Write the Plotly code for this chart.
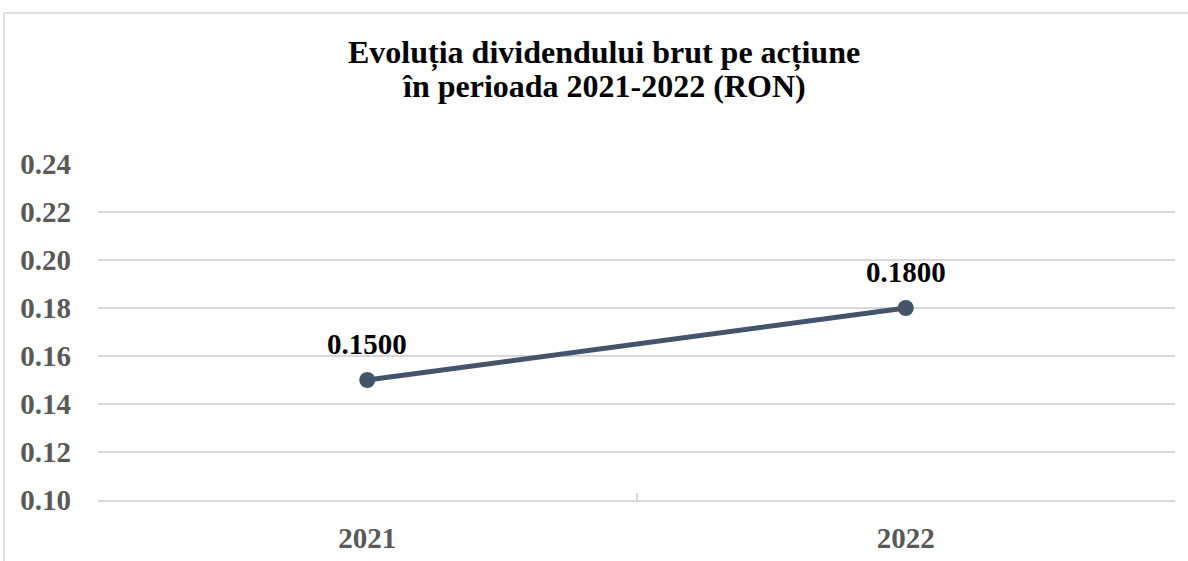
import plotly.graph_objects as go

years = ["2021", "2022"]
dividend = [0.15, 0.18]
labels = ["0.1500", "0.1800"]
y_ticks = [0.10, 0.12, 0.14, 0.16, 0.18, 0.20, 0.22, 0.24]
y_ticktext = ["0.10", "0.12", "0.14", "0.16", "0.18", "0.20", "0.22", "0.24"]
title_lines = ["Evoluția dividendului brut pe acțiune", "în perioada 2021-2022 (RON)"]

W, H = 1188, 561
L, R, T, B = 98, 13, 164, 61
pw = W - L - R
ph = H - T - B
SERIF = "Liberation Serif"
LINE_COLOR = "#44546A"

fig = go.Figure()
fig.add_trace(go.Scatter(
    x=years, y=dividend, mode="lines+markers",
    line=dict(color=LINE_COLOR, width=5),
    marker=dict(color=LINE_COLOR, size=16),
    cliponaxis=False,
    showlegend=False,
))

annotations = []
for i, (yv, lab) in enumerate(zip(dividend, labels)):
    annotations.append(dict(
        x=i, y=yv, xref="x", yref="y", text=lab, showarrow=False,
        xanchor="center", yanchor="bottom", yshift=18,
        font=dict(family=SERIF, size=29, color="#000000", weight="bold"),
    ))

title_centers = [52, 86]
for line, yc in zip(title_lines, title_centers):
    annotations.append(dict(
        x=(604 - L) / pw, y=(H - B - yc) / ph, xref="paper", yref="paper",
        text=line, showarrow=False, xanchor="center", yanchor="middle",
        font=dict(family=SERIF, size=32, color="#000000", weight="bold"),
    ))

fig.update_layout(
    width=W, height=H,
    margin=dict(l=L, r=R, t=T, b=B, autoexpand=False),
    paper_bgcolor="white", plot_bgcolor="white",
    font=dict(family=SERIF),
    xaxis=dict(
        type="category", range=[-0.5, 1.5], tickson="boundaries",
        ticks="inside", ticklen=7, tickcolor="#D9D9D9", tickwidth=1.5,
        showline=True, linecolor="#D9D9D9", linewidth=1.5,
        showgrid=False, automargin=False,
        tickfont=dict(family=SERIF, size=29, color="#595959", weight="bold"),
        ticklabelstandoff=11,
    ),
    yaxis=dict(
        range=[0.10, 0.24], tickvals=y_ticks, ticktext=y_ticktext,
        showgrid=True, gridcolor="#D9D9D9", gridwidth=1.5,
        showline=False, zeroline=False, ticks="", automargin=False,
        tickfont=dict(family=SERIF, size=29, color="#595959", weight="bold"),
        ticklabelstandoff=26,
    ),
    annotations=annotations,
    shapes=[dict(
        type="rect", xref="paper", yref="paper",
        x0=(4 - L) / pw, x1=(W + 30 - L) / pw,
        y0=-(B + 30) / ph, y1=(H - 13 - B) / ph,
        line=dict(color="#D9D9D9", width=1.5), fillcolor="rgba(0,0,0,0)",
        layer="below",
    )],
)

fig.write_html("out.html", config={"displayModeBar": False},
               post_script="document.body.style.margin='0';")
